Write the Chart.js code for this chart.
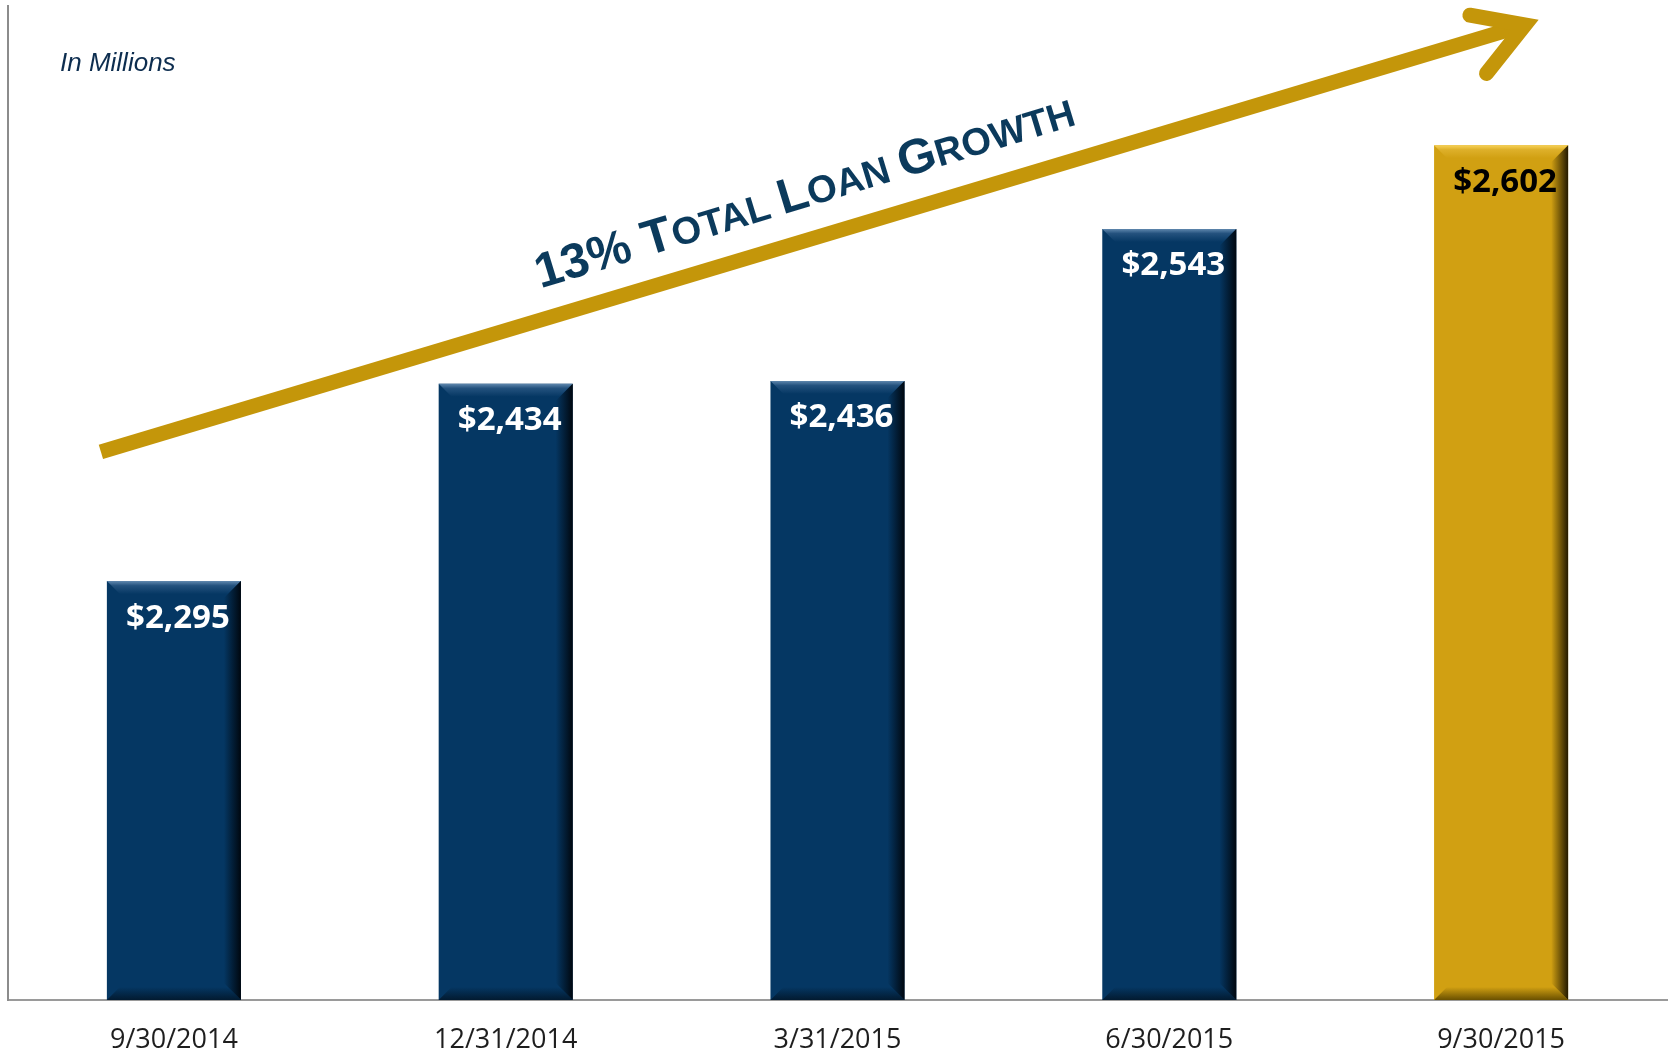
<!DOCTYPE html>
<html>
<head>
<meta charset="utf-8">
<script src="https://cdn.jsdelivr.net/npm/chart.js@4.4.1/dist/chart.umd.min.js"></script>
<style>
  html, body { margin: 0; padding: 0; background: #ffffff; }
  #loanChart { display: block; }
</style>
</head>
<body>
<canvas id="loanChart" width="1673" height="1052"></canvas>
<script>
// data
const quarters = ["9/30/2014", "12/31/2014", "3/31/2015", "6/30/2015", "9/30/2015"];
const totalLoans = [2295, 2434, 2436, 2543, 2602];
const valueLabels = ["$2,295", "$2,434", "$2,436", "$2,543", "$2,602"];
const yRange = [2000, 2700];

const NAVY = "#053763";
const GOLD = "#D1A012";
const ARROW_COLOR = "#C4960A";
const TITLE_COLOR = "#0b3a5c";

const barColors = [NAVY, NAVY, NAVY, NAVY, GOLD];
const labelColors = ["#ffffff", "#ffffff", "#ffffff", "#ffffff", "#000000"];

// bevel shades per bar colour: [top light, top inner, right dark, bottom dark]
const bevelShades = {
    [NAVY]: ["#6088ae", "#24527e", "#00070f", "#021a30"],
    [GOLD]: ["#f8d35a", "#deb02a", "#241a00", "#6a5000"]
};

// bevel effect drawn over each bar, using the bar element geometry
const bevelPlugin = {
    id: "bevel",
    afterDatasetsDraw(chart) {
        const ctx = chart.ctx;
        const area = chart.chartArea;
        const meta = chart.getDatasetMeta(0);
        meta.data.forEach((bar, i) => {
            const p = bar.getProps(["x", "y", "base", "width"], true);
            const L = p.x - p.width / 2, R = p.x + p.width / 2;
            const T = p.y, B = Math.min(p.base, area.bottom);
            const b = 13;
            const shades = bevelShades[barColors[i]];
            ctx.save();

            // top
            let g = ctx.createLinearGradient(0, T, 0, T + b);
            g.addColorStop(0, shades[0]);
            g.addColorStop(0.35, shades[1]);
            g.addColorStop(1, barColors[i]);
            ctx.fillStyle = g;
            ctx.beginPath();
            ctx.moveTo(L, T); ctx.lineTo(R, T); ctx.lineTo(R - b, T + b); ctx.lineTo(L + b, T + b);
            ctx.closePath(); ctx.fill();

            // bottom
            g = ctx.createLinearGradient(0, B - b, 0, B);
            g.addColorStop(0, barColors[i]);
            g.addColorStop(1, shades[3]);
            ctx.fillStyle = g;
            ctx.beginPath();
            ctx.moveTo(L, B); ctx.lineTo(R, B); ctx.lineTo(R - b, B - b); ctx.lineTo(L + b, B - b);
            ctx.closePath(); ctx.fill();

            // right side
            const rb = 17;
            g = ctx.createLinearGradient(R - rb, 0, R, 0);
            g.addColorStop(0, barColors[i]);
            g.addColorStop(1, shades[2]);
            ctx.fillStyle = g;
            ctx.beginPath();
            ctx.moveTo(R, T); ctx.lineTo(R, B); ctx.lineTo(R - rb, B - rb); ctx.lineTo(R - rb, T + rb);
            ctx.closePath(); ctx.fill();

            // value label
            ctx.fillStyle = labelColors[i];
            ctx.font = "bold 33px 'Open Sans'";
            ctx.textAlign = "center";
            ctx.textBaseline = "middle";
            ctx.fillText(valueLabels[i], p.x + 4, T + 37);
            ctx.restore();
        });
    }
};

// growth arrow + caption, positioned in data units
const arrowStart = [-0.22, 2386];
const arrowTip = [4.09, 2688];
const arrowArmUp = [3.906, 2693.5];
const arrowArmDown = [3.956, 2652.5];
const captionAnchor = [1.105, 2501];
const captionParts = [["13% ", 1], ["T", 1], ["OTAL ", 0.78], ["L", 1], ["OAN ", 0.78], ["G", 1], ["ROWTH", 0.78]];

const overlayPlugin = {
    id: "overlay",
    afterDraw(chart) {
        const ctx = chart.ctx;
        const xs = chart.scales.x, ys = chart.scales.y;
        const px = v => [xs.getPixelForValue(v[0]), ys.getPixelForValue(v[1])];
        ctx.save();

        // "In Millions"
        ctx.fillStyle = "#0d2d4f";
        ctx.font = "italic 26px 'Liberation Sans'";
        ctx.textBaseline = "middle";
        ctx.fillText("In Millions", 60, 64);

        // arrow shaft
        const s = px(arrowStart), t = px(arrowTip);
        const u = px(arrowArmUp), d = px(arrowArmDown);
        ctx.strokeStyle = ARROW_COLOR;
        ctx.lineWidth = 15;
        ctx.lineCap = "butt";
        ctx.beginPath();
        const ang = Math.atan2(t[1] - s[1], t[0] - s[0]);
        ctx.moveTo(s[0], s[1]);
        ctx.lineTo(t[0] - 14 * Math.cos(ang), t[1] - 14 * Math.sin(ang));
        ctx.stroke();

        // arrow head
        ctx.lineCap = "round";
        ctx.lineJoin = "miter";
        ctx.miterLimit = 10;
        ctx.beginPath();
        ctx.moveTo(u[0], u[1]);
        ctx.lineTo(t[0] - 6, t[1] + 2);
        ctx.lineTo(d[0], d[1]);
        ctx.stroke();

        // caption in small caps
        const c = px(captionAnchor);
        ctx.translate(c[0], c[1]);
        ctx.rotate(-17 * Math.PI / 180);
        ctx.fillStyle = TITLE_COLOR;
        ctx.textBaseline = "alphabetic";
        ctx.textAlign = "left";
        let cx = 0;
        captionParts.forEach(([txt, scale]) => {
            ctx.font = "bold " + (49 * scale) + "px 'Liberation Sans'";
            ctx.fillText(txt, cx, 0);
            cx += ctx.measureText(txt).width;
        });
        ctx.restore();
    }
};

const ctx = document.getElementById("loanChart").getContext("2d");

const loanChart = new Chart(ctx, {
    type: "bar",
    data: {
        labels: quarters,
        datasets: [{
            data: totalLoans,
            backgroundColor: barColors,
            borderWidth: 0,
            barPercentage: 0.404,
            categoryPercentage: 1
        }]
    },
    options: {
        responsive: false,
        animation: false,
        devicePixelRatio: 1,
        layout: { padding: { left: 8, top: 6, right: 6, bottom: 0 } },
        plugins: {
            legend: { display: false },
            tooltip: { enabled: false }
        },
        scales: {
            x: {
                afterFit: scale => { scale.height = 52; },
                grid: { display: false, drawTicks: false },
                border: { display: true, color: "#9a9a9a", width: 2 },
                ticks: {
                    color: "#1e1e1e",
                    padding: 24,
                    maxRotation: 0,
                    font: { family: "'Open Sans'", size: 27 }
                }
            },
            y: {
                min: yRange[0],
                max: yRange[1],
                grid: { display: false, drawTicks: false },
                border: { display: true, color: "#8c8c8c", width: 2 },
                ticks: { display: false }
            }
        }
    },
    plugins: [bevelPlugin, overlayPlugin]
});
</script>
</body>
</html>
